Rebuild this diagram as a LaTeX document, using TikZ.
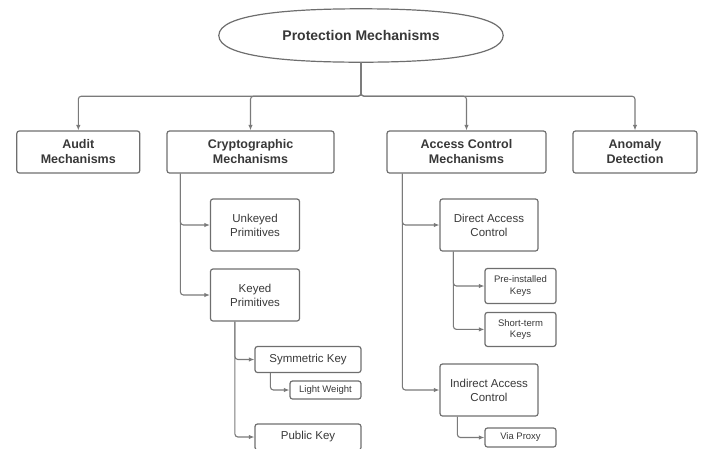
\documentclass[tikz,border=0pt]{standalone}
\usepackage{fontspec}
\setmainfont{Liberation Sans}
\usetikzlibrary{arrows.meta}
\definecolor{linegray}{HTML}{7A7A7A}
\definecolor{boxgray}{HTML}{6E6E6E}
\definecolor{textgray}{HTML}{383838}
\begin{document}
\begin{tikzpicture}[x=1pt, y=-1pt,
    box/.style={draw=boxgray, line width=1.2pt, rounded corners=2.5pt, text=textgray, align=center, inner sep=0pt},
    topbox/.style={box, font=\fontsize{12.5}{15}\selectfont\bfseries, minimum height=42pt},
    midbox/.style={box, font=\fontsize{11.5}{14}\selectfont, minimum height=52pt},
    smallbox/.style={box, font=\fontsize{9.5}{11.5}\selectfont},
    link/.style={draw=linegray, line width=1.1pt, rounded corners=3pt, -{Latex[length=5.5pt,width=4.5pt]}}]
    \useasboundingbox (0,0) rectangle (704,448);
    \clip (0,0) rectangle (704,448);

    \node[text=textgray, font=\fontsize{14}{17}\selectfont\bfseries, minimum width=284pt, minimum height=53pt] (prot) at (361,35.5) {Protection Mechanisms};
    \draw[draw=boxgray, line width=1.2pt] (prot.west) .. controls +(0,-21.5) and +(-71,0) .. (prot.north) .. controls +(71,0) and +(0,-21.5) .. (prot.east) .. controls +(0,21.5) and +(71,0) .. (prot.south) .. controls +(-71,0) and +(0,21.5) .. (prot.west) -- cycle;

    \node[topbox, minimum width=123pt] (audit) at (78.3,152) {Audit\\Mechanisms};
    \node[topbox, minimum width=167pt] (crypto) at (250.5,152) {Cryptographic\\Mechanisms};
    \node[topbox, minimum width=159pt] (access) at (466.5,152) {Access Control\\Mechanisms};
    \node[topbox, minimum width=124pt] (anomaly) at (635,152) {Anomaly\\Detection};

    \draw[link] (prot.south) -- ++(0,34) -| (audit.north);
    \draw[link] (prot.south) -- ++(0,34) -| (crypto.north);
    \draw[link] (prot.south) -- ++(0,34) -| (access.north);
    \draw[link] (prot.south) -- ++(0,34) -| (anomaly.north);

    \node[midbox, minimum width=89pt] (unkeyed) at (255,225) {Unkeyed\\Primitives};
    \node[midbox, minimum width=89pt] (keyed) at (255,295) {Keyed\\Primitives};
    \node[midbox, minimum width=106pt, minimum height=26pt] (sym) at (308,359.5) {Symmetric Key};
    \node[smallbox, minimum width=71pt, minimum height=18pt] (light) at (325.5,390) {Light Weight};
    \node[midbox, minimum width=106pt, minimum height=26pt] (public) at (308,437) {Public Key};

    \draw[link] ([xshift=14pt]crypto.south west) |- (unkeyed.west);
    \draw[link] ([xshift=14pt]crypto.south west) |- (keyed.west);
    \draw[link] ([xshift=25pt]keyed.south west) |- (sym.west);
    \draw[link] ([xshift=25pt]keyed.south west) |- (public.west);
    \draw[link] ([xshift=16pt]sym.south west) |- (light.west);

    \node[midbox, minimum width=98pt] (direct) at (489,225) {Direct Access\\Control};
    \node[smallbox, minimum width=71pt, minimum height=35pt] (pre) at (520.5,286) {Pre-installed\\Keys};
    \node[smallbox, minimum width=71pt, minimum height=34pt] (short) at (520.5,329.4) {Short-term\\Keys};
    \node[midbox, minimum width=98pt] (indirect) at (489,390) {Indirect Access\\Control};
    \node[smallbox, minimum width=71pt, minimum height=19pt] (via) at (520.5,437.5) {Via Proxy};

    \draw[link] ([xshift=16pt]access.south west) |- (direct.west);
    \draw[link] ([xshift=16pt]access.south west) |- (indirect.west);
    \draw[link] ([xshift=14pt]direct.south west) |- (pre.west);
    \draw[link] ([xshift=14pt]direct.south west) |- (short.west);
    \draw[link] ([xshift=18pt]indirect.south west) |- (via.west);
\end{tikzpicture}
\end{document}
